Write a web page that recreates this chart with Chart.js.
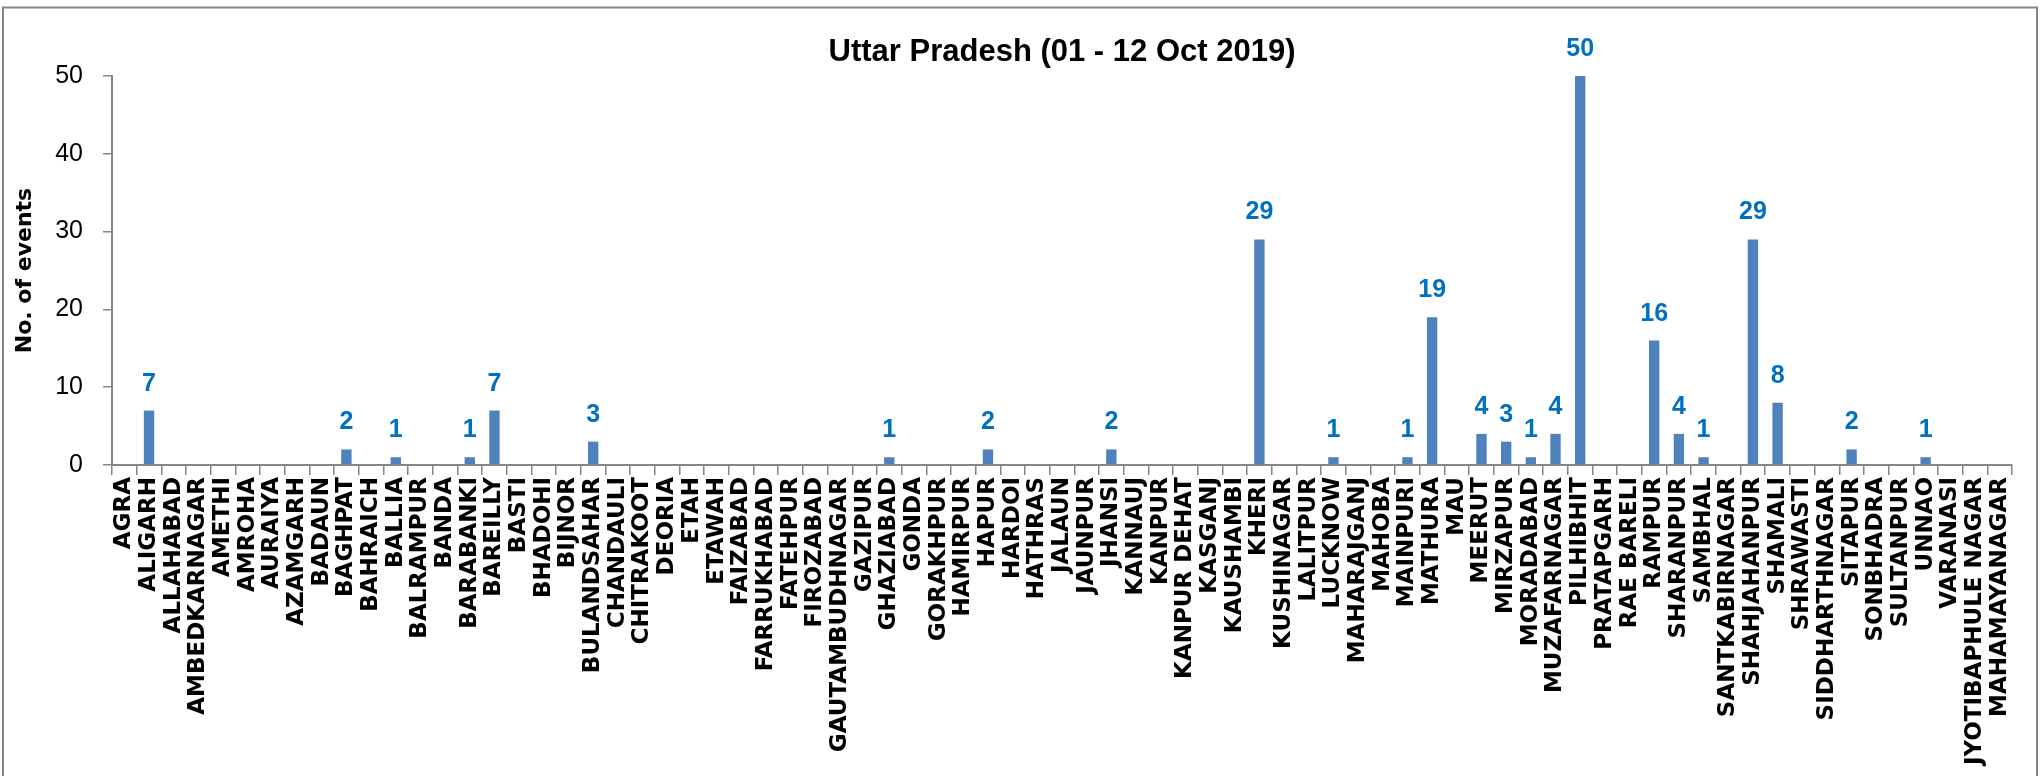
<!DOCTYPE html>
<html>
<head>
<meta charset="utf-8">
<script src="https://cdn.jsdelivr.net/npm/chart.js@4.4.1/dist/chart.umd.min.js"></script>
<style>
  body { margin: 0; background: #fff; }
  canvas { display: block; }
</style>
</head>
<body>
<canvas id="chart" width="2044" height="776"></canvas>
<script>
// districts in the order they appear on the x axis
let districts = [
  'AGRA', 'ALIGARH', 'ALLAHABAD', 'AMBEDKARNAGAR', 'AMETHI', 'AMROHA', 'AURAIYA', 'AZAMGARH',
  'BADAUN', 'BAGHPAT', 'BAHRAICH', 'BALLIA', 'BALRAMPUR', 'BANDA', 'BARABANKI', 'BAREILLY',
  'BASTI', 'BHADOHI', 'BIJNOR', 'BULANDSAHAR', 'CHANDAULI', 'CHITRAKOOT', 'DEORIA', 'ETAH',
  'ETAWAH', 'FAIZABAD', 'FARRUKHABAD', 'FATEHPUR', 'FIROZABAD', 'GAUTAMBUDHNAGAR', 'GAZIPUR',
  'GHAZIABAD', 'GONDA', 'GORAKHPUR', 'HAMIRPUR', 'HAPUR', 'HARDOI', 'HATHRAS', 'JALAUN',
  'JAUNPUR', 'JHANSI', 'KANNAUJ', 'KANPUR', 'KANPUR DEHAT', 'KASGANJ', 'KAUSHAMBI', 'KHERI',
  'KUSHINAGAR', 'LALITPUR', 'LUCKNOW', 'MAHARAJGANJ', 'MAHOBA', 'MAINPURI', 'MATHURA', 'MAU',
  'MEERUT', 'MIRZAPUR', 'MORADABAD', 'MUZAFARNAGAR', 'PILHIBHIT', 'PRATAPGARH', 'RAE BARELI',
  'RAMPUR', 'SHARANPUR', 'SAMBHAL', 'SANTKABIRNAGAR', 'SHAHJAHANPUR', 'SHAMALI', 'SHRAWASTI',
  'SIDDHARTHNAGAR', 'SITAPUR', 'SONBHADRA', 'SULTANPUR', 'UNNAO', 'VARANASI',
  'JYOTIBAPHULE NAGAR', 'MAHAMAYANAGAR'
];

// number of events per district (same order)
let events = [
  0, 7, 0, 0, 0, 0, 0, 0,
  0, 2, 0, 1, 0, 0, 1, 7,
  0, 0, 0, 3, 0, 0, 0, 0,
  0, 0, 0, 0, 0, 0, 0,
  1, 0, 0, 0, 2, 0, 0, 0,
  0, 2, 0, 0, 0, 0, 0, 29,
  0, 0, 1, 0, 0, 1, 19, 0,
  4, 3, 1, 4, 50, 0, 0,
  16, 4, 1, 0, 29, 8, 0,
  0, 2, 0, 0, 1, 0,
  0, 0
];

let yTicks = [0, 10, 20, 30, 40, 50];

let chartTitle = 'Uttar Pradesh (01 - 12 Oct 2019)';
let yAxisTitle = 'No. of events';

let axisColor = '#868686';
let barColor = '#4F81BD';
let labelColor = '#0070C0';

// рамка вокруг всей диаграммы
const frame = {
  id: 'frame',
  beforeDraw(chart) {
    const ctx = chart.ctx;
    ctx.save();
    ctx.fillStyle = '#fff';
    ctx.fillRect(0, 0, chart.width, chart.height);
    ctx.strokeStyle = axisColor;
    ctx.lineWidth = 2;
    ctx.strokeRect(3, 7.5, 2034, 800);
    ctx.restore();
  }
};

// заголовок по центру области построения
const plotTitle = {
  id: 'plotTitle',
  afterDraw(chart) {
    const ctx = chart.ctx;
    const area = chart.chartArea;
    ctx.save();
    ctx.font = 'bold 31px "Liberation Sans", Arial, sans-serif';
    ctx.fillStyle = '#000';
    ctx.textAlign = 'center';
    ctx.textBaseline = 'alphabetic';
    ctx.fillText(chartTitle, (area.left + area.right) / 2, 61);
    ctx.restore();
  }
};

// подписи значений над столбцами (нули не показываем)
const valueLabels = {
  id: 'valueLabels',
  afterDatasetsDraw(chart) {
    const ctx = chart.ctx;
    const meta = chart.getDatasetMeta(0);
    ctx.save();
    ctx.font = 'bold 25px "Liberation Sans", Arial, sans-serif';
    ctx.fillStyle = labelColor;
    ctx.textAlign = 'center';
    ctx.textBaseline = 'alphabetic';
    meta.data.forEach((bar, i) => {
      const v = events[i];
      if (!v) return;
      ctx.fillText(String(v), bar.x, bar.y - 20);
    });
    ctx.restore();
  }
};

let ctx = document.getElementById('chart').getContext('2d');
let chart = new Chart(ctx, {
  type: 'bar',
  data: {
    labels: districts,
    datasets: [{
      label: yAxisTitle,
      data: events,
      backgroundColor: barColor,
      borderWidth: 0,
      barPercentage: 0.42,
      categoryPercentage: 1.0
    }]
  },
  options: {
    responsive: false,
    animation: false,
    layout: {
      padding: { left: 0, right: 32, top: 76, bottom: 0 }
    },
    plugins: {
      legend: { display: false },
      tooltip: { enabled: false },
      title: { display: false }
    },
    scales: {
      x: {
        grid: {
          display: true,
          drawOnChartArea: false,
          drawTicks: true,
          tickLength: 10,
          color: axisColor,
          lineWidth: 1.5
        },
        border: { color: axisColor, width: 2 },
        ticks: {
          autoSkip: false,
          maxRotation: 90,
          minRotation: 90,
          padding: 2,
          color: '#000',
          font: { family: '"DejaVu Sans", Verdana, sans-serif', weight: 'bold', size: 23 }
        },
        afterFit(scale) {
          scale.height = 311;
        }
      },
      y: {
        min: 0,
        max: 50,
        afterBuildTicks(scale) {
          scale.ticks = yTicks.map(v => ({ value: v }));
        },
        grid: {
          display: true,
          drawOnChartArea: false,
          drawTicks: true,
          tickLength: 9,
          color: axisColor,
          lineWidth: 1.5
        },
        border: { color: axisColor, width: 2 },
        ticks: {
          padding: 20,
          color: '#000',
          font: { family: '"Liberation Sans", Arial, sans-serif', size: 25 }
        },
        title: {
          display: true,
          text: yAxisTitle,
          color: '#000',
          padding: { top: 12, bottom: 0 },
          font: { family: '"DejaVu Sans", Verdana, sans-serif', weight: 'bold', size: 22 }
        },
        afterFit(scale) {
          scale.width = 112;
        }
      }
    }
  },
  plugins: [frame, plotTitle, valueLabels]
});
</script>
</body>
</html>
